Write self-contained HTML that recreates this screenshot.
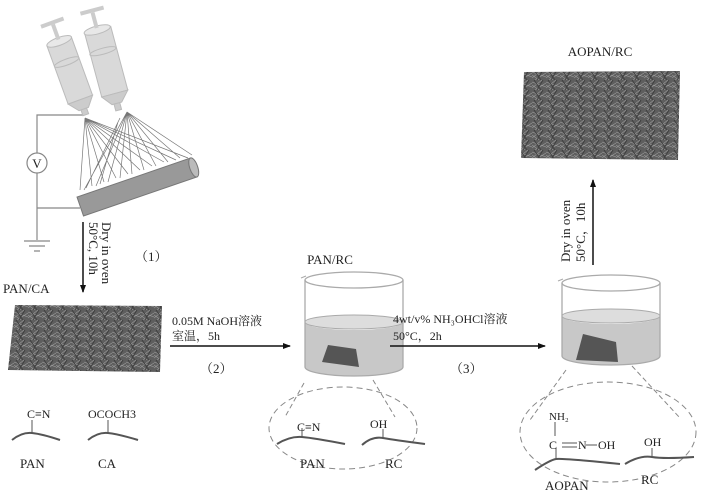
<!DOCTYPE html>
<html><head><meta charset="utf-8"><style>
html,body{margin:0;padding:0;background:#fff}
svg{display:block}
text{font-family:"Liberation Serif","Noto Serif CJK SC",serif;fill:#222}
</style></head><body>
<svg width="702" height="500" viewBox="0 0 702 500" xmlns="http://www.w3.org/2000/svg">
<defs>
<pattern id="mesh" width="14" height="10" patternUnits="userSpaceOnUse">
<rect width="14" height="10" fill="#5e5e5e"/>
<path d="M0 2L14 7M0 8L10 0M3 10L14 3M0 5L7 10" stroke="#9a9a9a" stroke-width="0.6"/>
<path d="M2 0L9 10M11 0L5 10" stroke="#3a3a3a" stroke-width="0.8"/>
</pattern>
<marker id="ah" markerWidth="8" markerHeight="8" refX="7" refY="4" orient="auto" markerUnits="userSpaceOnUse"><path d="M0 1L8 4L0 7z" fill="#111"/></marker>
</defs>

<!-- circuit -->
<g stroke="#888" stroke-width="1.2" fill="none">
<path d="M83 115H37V153M37 173V208H80M37 208V240"/>
<path d="M24 241H50M29 246H45M34 251H40"/>
<circle cx="37" cy="163" r="10" fill="#fff"/>
</g>
<text x="37" y="168" font-size="13" text-anchor="middle">V</text>

<!-- fibers -->
<g stroke="#777" stroke-width="0.7">
<path d="M85 118L80 190M85 118L92 186M85 118L104 182M85 118L116 178M85 118L128 174M85 118L140 170M85 118L152 166M85 118L164 162M85 118L176 160M85 118L188 158
M127 112L84 190M127 112L96 186M127 112L108 182M127 112L120 178M127 112L132 174M127 112L144 170M127 112L156 166M127 112L168 162M127 112L180 158M127 112L192 155M120 118L86 188M118 122L100 184"/>
</g>
<!-- collector -->
<g transform="rotate(-19 137 187)">
<rect x="77" y="177" width="120" height="20" fill="#999" stroke="#777"/>
<ellipse cx="197" cy="187" rx="4" ry="10" fill="#bbb" stroke="#777"/>
</g>
<!-- syringes -->
<g transform="rotate(-20 70 80)" fill="#ddd" stroke="#bbb">
<rect x="60" y="40" width="26" height="62" fill="#d9d9d9"/>
<ellipse cx="73" cy="40" rx="13" ry="4" fill="#e8e8e8"/>
<ellipse cx="73" cy="62" rx="13" ry="3" fill="none"/>
<path d="M60 102L68 112H78L86 102z" fill="#ccc"/>
<rect x="70" y="112" width="6" height="6" fill="#ccc"/>
<rect x="71" y="22" width="4" height="16" fill="#ccc" stroke="none"/>
<rect x="61" y="18" width="24" height="4" fill="#ccc" stroke="none"/>
</g>
<g transform="rotate(-15 110 70)" fill="#ddd" stroke="#bbb">
<rect x="95" y="28" width="27" height="66" fill="#d9d9d9"/>
<ellipse cx="108" cy="28" rx="13.5" ry="4" fill="#e8e8e8"/>
<ellipse cx="108" cy="50" rx="13.5" ry="3" fill="none"/>
<path d="M95 94L103 104H113L122 94z" fill="#ccc"/>
<rect x="105" y="104" width="6" height="7" fill="#ccc"/>
<rect x="106" y="10" width="4" height="16" fill="#ccc" stroke="none"/>
<rect x="96" y="6" width="24" height="4" fill="#ccc" stroke="none"/>
</g>

<!-- step 1 arrow -->
<line x1="83" y1="222" x2="83" y2="292" stroke="#111" stroke-width="1.5" marker-end="url(#ah)"/>
<text transform="translate(102 222) rotate(90)" font-size="13">Dry in oven</text>
<text transform="translate(89 222) rotate(90)" font-size="13">50°C, 10h</text>
<text x="135" y="261" font-size="13">（1）</text>

<text x="3" y="293" font-size="13">PAN/CA</text>
<path d="M15 305L162 306L160 372L8 370z" fill="url(#mesh)"/>

<!-- PAN CA chains -->
<g stroke="#555" stroke-width="2" fill="none">
<path d="M12 440Q22 432 32 433T60 440"/>
<path d="M88 440Q98 432 108 433T138 440"/>
</g>
<g stroke="#555" stroke-width="1"><path d="M32 433V420M108 433V420"/></g>
<text x="27" y="418" font-size="12">C≡N</text>
<text x="88" y="418" font-size="12">OCOCH3</text>
<text x="20" y="468" font-size="13">PAN</text>
<text x="98" y="468" font-size="13">CA</text>

<!-- arrow 2 -->
<line x1="170" y1="346" x2="290" y2="346" stroke="#111" stroke-width="1.5" marker-end="url(#ah)"/>
<text x="172" y="325" font-size="12">0.05M NaOH溶液</text>
<text x="172" y="340" font-size="12">室温，5h</text>
<text x="200" y="373" font-size="13">（2）</text>

<!-- beaker 1 -->
<text x="330" y="264" font-size="13" text-anchor="middle">PAN/RC</text>
<path d="M304 383L285 417M373 380L395 417" stroke="#888" stroke-dasharray="5 3" fill="none"/>
<path d="M305 322A49 8 0 0 0 403 322V367A49 9 0 0 1 305 367z" fill="#c8c8c8"/>
<path d="M305 280V367A49 9 0 0 0 403 367V280" fill="none" stroke="#aaa" stroke-width="1.3"/>
<ellipse cx="354" cy="280" rx="49" ry="8" fill="none" stroke="#aaa" stroke-width="1.3"/>
<ellipse cx="354" cy="322" rx="49" ry="7" fill="#ddd" stroke="#aaa"/>
<path d="M301 278L306 276" stroke="#aaa"/>
<path d="M328 345L356 349L359 367L322 362z" fill="#555"/>
<ellipse cx="343" cy="428" rx="74" ry="41" fill="none" stroke="#888" stroke-dasharray="6 4"/>
<g stroke="#555" stroke-width="2" fill="none">
<path d="M277 444Q290 436 302 437T345 444"/>
<path d="M362 445Q372 436 383 438T425 444"/>
</g>
<g stroke="#555"><path d="M302 437V428M383 438V429"/></g>
<text x="297" y="431" font-size="12">C≡N</text>
<text x="370" y="428" font-size="12">OH</text>
<text x="300" y="468" font-size="13">PAN</text>
<text x="385" y="468" font-size="13">RC</text>

<!-- arrow 3 -->
<line x1="390" y1="346" x2="545" y2="346" stroke="#111" stroke-width="1.5" marker-end="url(#ah)"/>
<text x="393" y="323" font-size="12">4wt/v% NH₃OHCl溶液</text>
<text x="393" y="340" font-size="12">50°C，2h</text>
<text x="450" y="373" font-size="13">（3）</text>

<!-- beaker 2 -->
<path d="M566 370L530 420M632 366L680 418" stroke="#888" stroke-dasharray="5 3" fill="none"/>
<path d="M562 316A49 8 0 0 0 660 316V356A49 9 0 0 1 562 356z" fill="#c8c8c8"/>
<path d="M562 283V356A49 9 0 0 0 660 356V283" fill="none" stroke="#aaa" stroke-width="1.3"/>
<ellipse cx="611" cy="283" rx="49" ry="8" fill="none" stroke="#aaa" stroke-width="1.3"/>
<ellipse cx="611" cy="316" rx="49" ry="7" fill="#ddd" stroke="#aaa"/>
<path d="M558 281L563 279" stroke="#aaa"/>
<path d="M583 334L616 342L618 362L576 360z" fill="#555"/>
<ellipse cx="608" cy="432" rx="88" ry="50" fill="none" stroke="#888" stroke-dasharray="6 4"/>
<g stroke="#555" stroke-width="2" fill="none">
<path d="M535 470Q550 460 556 459T620 464"/>
<path d="M625 464Q640 455 652 457T694 457"/>
</g>
<g stroke="#555"><path d="M556 459V448M555 436V422M562 443H577M562 447H577M586 445H597M652 457V448"/></g>
<text x="549" y="420" font-size="11">NH₂</text>
<text x="549" y="449" font-size="12">C</text>
<text x="578" y="449" font-size="12">N</text>
<text x="598" y="449" font-size="12">OH</text>
<text x="644" y="446" font-size="12">OH</text>
<text x="545" y="490" font-size="13">AOPAN</text>
<text x="641" y="484" font-size="13">RC</text>

<!-- dry arrow up -->
<line x1="593" y1="265" x2="593" y2="180" stroke="#111" stroke-width="1.5" marker-end="url(#ah)"/>
<text transform="translate(570 262) rotate(-90)" font-size="13">Dry in oven</text>
<text transform="translate(585 262) rotate(-90)" font-size="13">50°C，10h</text>

<text x="600" y="56" font-size="13" text-anchor="middle">AOPAN/RC</text>
<path d="M524 72L680 71L678 160L521 158z" fill="url(#mesh)"/>
</svg>
</body></html>
